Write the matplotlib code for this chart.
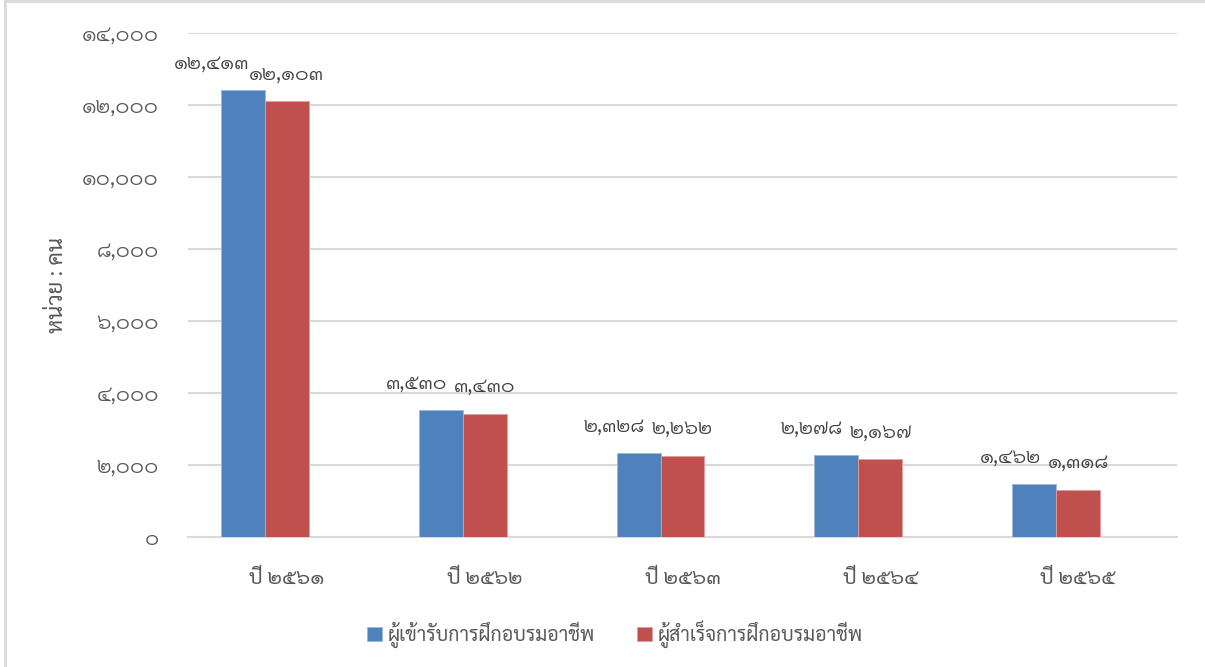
import matplotlib
matplotlib.use("Agg")
import numpy as np
import matplotlib.pyplot as plt
from matplotlib import font_manager
from matplotlib.ft2font import FT2Font
from matplotlib.lines import Line2D

years = ['ปี ๒๕๖๑', 'ปี ๒๕๖๒', 'ปี ๒๕๖๓', 'ปี ๒๕๖๔', 'ปี ๒๕๖๕']
entered = [12413, 3530, 2328, 2278, 1462]
finished = [12103, 3430, 2262, 2167, 1318]
series_names = ['ผู้เข้ารับการฝึกอบรมอาชีพ', 'ผู้สำเร็จการฝึกอบรมอาชีพ']
yticks = [0, 2000, 4000, 6000, 8000, 10000, 12000, 14000]

thai_digits = str.maketrans('0123456789', '๐๑๒๓๔๕๖๗๘๙')


def thai_num(v):
    return '{:,}'.format(int(v)).translate(thai_digits)


# pin the exact Sarabun files by their style name; lookup by weight was flaky
sarabun = {}
for entry in font_manager.fontManager.ttflist:
    if entry.name == 'Sarabun':
        try:
            sarabun[FT2Font(entry.fname).style_name] = entry.fname
        except Exception:
            pass


def thai_font(style, size):
    path = sarabun.get(style) or sarabun.get('Regular')
    if path:
        return font_manager.FontProperties(fname=path, size=size)
    return font_manager.FontProperties(family=['Noto Sans Thai', 'DejaVu Sans'], size=size)


blue = '#4F81BD'
red = '#C0504D'
grid_c = '#D9D9D9'
text_c = '#595959'

fig = plt.figure(figsize=(12.05, 6.67), dpi=100)
ax = fig.add_axes([188 / 1205, 1 - 537 / 667, (1177 - 188) / 1205, (537 - 33) / 667])

x = np.arange(len(years))
w = 0.222
# excel leaves room for a third (empty) series, so the pair sits left of centre
b1 = ax.bar(x - w, entered, w, color=blue, edgecolor='#9DB8DA', linewidth=0.6,
            label=series_names[0], zorder=3)
b2 = ax.bar(x, finished, w, color=red, edgecolor='#E0A09E', linewidth=0.6,
            label=series_names[1], zorder=3)

lbl_font = thai_font('Light', 15)
# data labels: red ones centred, blue ones pushed left so they don't collide
for r, v in zip(b1, entered):
    ax.annotate(thai_num(v), (r.get_x() + r.get_width(), v), xytext=(-11, 12),
                textcoords='offset points', ha='right', va='bottom',
                fontproperties=lbl_font, color='#404040')
for r, v in zip(b2, finished):
    ax.annotate(thai_num(v), (r.get_x() + r.get_width() / 2, v), xytext=(0, 12),
                textcoords='offset points', ha='center', va='bottom',
                fontproperties=lbl_font, color='#404040')

ax.set_xlim(-0.5, len(years) - 0.5)
ax.set_ylim(0, 14000)
ax.set_yticks(yticks)
ax.set_yticklabels([thai_num(t) for t in yticks], color=text_c,
                   fontproperties=thai_font('Light', 15.5))
ax.set_xticks(x)
ax.set_xticklabels(years, color=text_c, fontproperties=thai_font('Regular', 15))
ax.tick_params(axis='both', length=0)
ax.tick_params(axis='y', pad=21)
ax.tick_params(axis='x', pad=22)
ax.grid(axis='y', color=grid_c, linewidth=1.5, zorder=0)
for s in ['top', 'right', 'left']:
    ax.spines[s].set_visible(False)
ax.spines['bottom'].set_color(grid_c)
ax.spines['bottom'].set_linewidth(1.5)

ax.set_ylabel('หน่วย : คน', color=text_c, fontproperties=thai_font('Regular', 16))
ax.yaxis.set_label_coords(-120 / 989, 0.5)

fig.legend(loc='center', bbox_to_anchor=(615 / 1205, 1 - 634 / 667), ncol=2,
           frameon=False, prop=thai_font('Regular', 14),
           handlelength=0.75, handleheight=0.75,
           handletextpad=0.3, columnspacing=2.2, labelcolor=text_c)

# chart area border (only left and top edges show)
fig.add_artist(Line2D([5 / 1205, 5 / 1205], [0, 1 - 1 / 667], color=grid_c, lw=2))
fig.add_artist(Line2D([5 / 1205, 1], [1 - 1 / 667, 1 - 1 / 667], color=grid_c, lw=2))

fig.savefig('out.png', dpi=100)
